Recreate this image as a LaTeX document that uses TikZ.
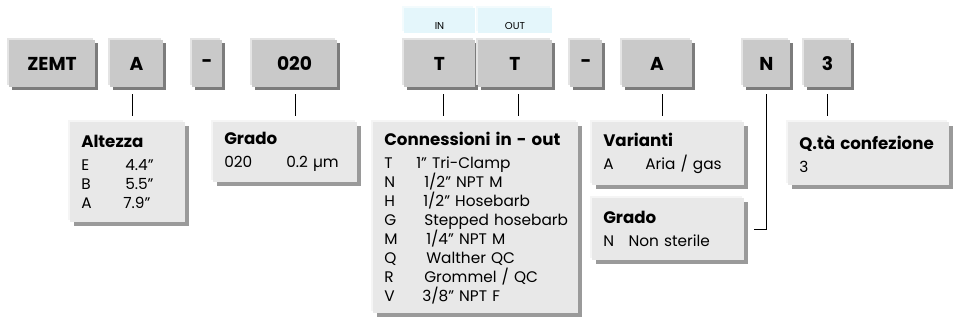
\documentclass[tikz,border=0pt]{standalone}
\usepackage{fontspec}
\setmainfont{Poppins}
\usetikzlibrary{shadows}
\definecolor{selfill}{HTML}{C9C9C9}
\definecolor{sellight}{HTML}{E4E4E4}
\definecolor{selshade}{HTML}{7C7C7C}
\definecolor{infofill}{HTML}{E8E8E8}
\definecolor{infolight}{HTML}{F5F5F5}
\definecolor{infoshade}{HTML}{9A9A9A}
\definecolor{tagfill}{HTML}{E4F6FB}
\definecolor{taglight}{HTML}{F3FBFD}
\newcommand{\hd}[1]{\mbox{\bfseries\fontsize{12.5}{15}\selectfont #1}}
\newcommand{\rw}[3]{\mbox{\makebox[#1pt][l]{#2}#3}}
\begin{document}
\begin{tikzpicture}[x=0.75pt,y=-0.75pt,
	sel/.style={fill=selfill,minimum height=35.25pt,inner sep=0pt,
		font=\bfseries\fontsize{14}{16}\selectfont,
		general shadow={shadow xshift=-1.5pt,shadow yshift=1.5pt,fill=sellight},
		drop shadow={shadow xshift=2.6pt,shadow yshift=-2.6pt,fill=selshade,opacity=1}},
	tag/.style={fill=tagfill,minimum height=18.75pt,inner sep=0pt,
		text height=13pt,text depth=0pt,font=\fontsize{7.5}{9}\selectfont,
		general shadow={shadow xshift=-1.5pt,shadow yshift=1.5pt,fill=taglight}},
	info/.style 2 args={fill=infofill,anchor=north west,inner xsep=8.25pt,inner ysep=0pt,
		align=left,text width=#1,minimum height=#2,
		font=\fontsize{11.5}{14.25}\selectfont,
		general shadow={shadow xshift=-1.5pt,shadow yshift=1.5pt,fill=infolight},
		drop shadow={shadow xshift=2.6pt,shadow yshift=-2.6pt,fill=infoshade,opacity=1}},
	lnk/.style={black,line width=0.6pt}]
	\useasboundingbox (0,0) rectangle (956,323);
	% code boxes
	\path
	(52,63.5)    node[sel,minimum width=64.5pt]  (zemt)  {ZEMT}
	(136.5,63.5) node[sel,minimum width=39.75pt] (selA)  {A}
	(207,63.5)   node[sel,minimum width=22.5pt]  (dashA) {-}
	(294.5,63.5) node[sel,minimum width=63.75pt] (selG)  {020}
	(439.5,63.5) node[sel,minimum width=53.25pt] (selIn) {T}
	(515,63.5)   node[sel,minimum width=55.5pt]  (selOut){T}
	(586,63.5)   node[sel,minimum width=24pt]    (dashB) {-}
	(657,63.5)   node[sel,minimum width=52.5pt]  (selV)  {A}
	(766.5,63.5) node[sel,minimum width=35.25pt] (selN)  {N}
	(827.5,63.5) node[sel,minimum width=35.25pt] (selQ)  {3}
	(439.5,20.5) node[tag,minimum width=53.25pt] (tagIn) {IN}
	(515,20.5)   node[tag,minimum width=55.5pt]  (tagOut){OUT};
	% legend boxes
	\path
	(70,122)  node[info={69.75pt}{75pt}] (alt)
		{\hd{Altezza}\\[3pt]\rw{33}{E}{4.4"}\\\rw{33}{B}{5.5"}\\\rw{31.5}{A}{7.9"}}
	(213,122) node[info={91.5pt}{45pt}] (gra)
		{\hd{Grado}\\[3pt]\rw{46.5}{020}{0.2 µm}}
	(373,122) node[info={137.25pt}{143.25pt}] (con)
		{\hd{Connessioni in - out}\\[3pt]\rw{24}{T}{1" Tri-Clamp}\\\rw{30}{N}{1/2" NPT M}\\
		\rw{29.25}{H}{1/2" Hosebarb}\\\rw{30}{G}{Stepped hosebarb}\\\rw{31.5}{M}{1/4" NPT M}\\
		\rw{31.5}{Q}{Walther QC}\\\rw{30}{R}{Grommel / QC}\\\rw{28.5}{V}{3/8" NPT F}}
	(592,122) node[info={97.5pt}{47.25pt}] (var)
		{\hd{Varianti}\\[3pt]\rw{31.5}{A}{Aria / gas}}
	(592,198) node[info={97.5pt}{46.5pt}] (ster)
		{\hd{Grado}\\[3pt]\rw{19}{N}{Non sterile}}
	(788,122) node[info={104.25pt}{47.25pt}] (qta)
		{\hd{Q.tà confezione}\\[3pt]3};
	% links
	\draw[lnk] ([xshift=-3pt,yshift=-5.25pt]selA.south) -- ([xshift=-3pt,yshift=4.5pt]selA.south |- alt.north);
	\draw[lnk] ([xshift=1pt,yshift=-5.25pt]selG.south) -- ([xshift=1pt,yshift=4.5pt]selG.south |- gra.north);
	\draw[lnk] ([xshift=3pt,yshift=-5.25pt]selIn.south) -- ([xshift=3pt,yshift=4.5pt]selIn.south |- con.north);
	\draw[lnk] ([xshift=2.5pt,yshift=-5.25pt]selOut.south) -- ([xshift=2.5pt,yshift=4.5pt]selOut.south |- con.north);
	\draw[lnk] ([xshift=3.75pt,yshift=-5.25pt]selV.south) -- ([xshift=3.75pt,yshift=4.5pt]selV.south |- var.north);
	\draw[lnk] ([yshift=-5.25pt]selN.south) |- ([xshift=6.75pt]ster.east);
	\draw[lnk] ([yshift=-5.25pt]selQ.south) -- ([yshift=4.5pt]selQ.south |- qta.north);
\end{tikzpicture}
\end{document}
